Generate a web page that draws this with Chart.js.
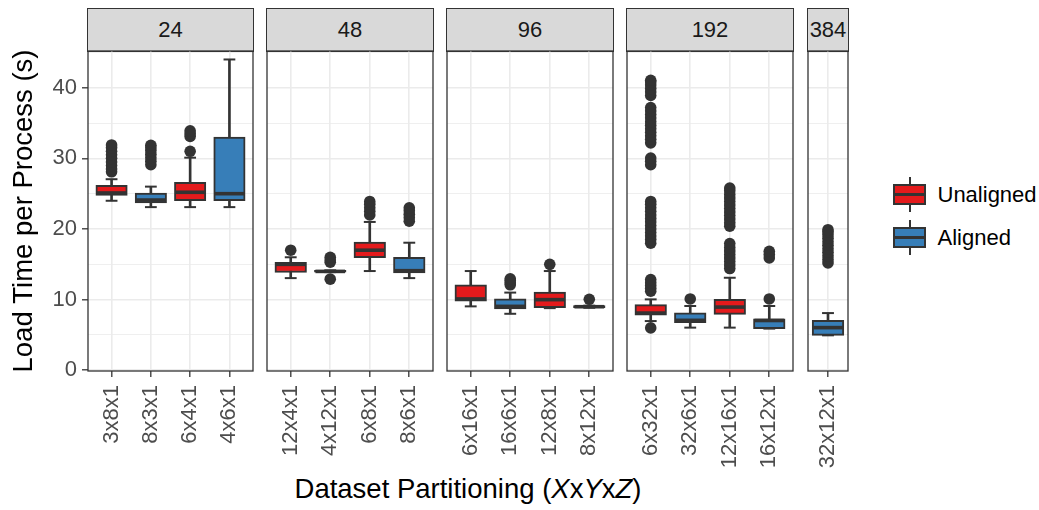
<!DOCTYPE html>
<html>
<head>
<meta charset="utf-8">
<script src="https://cdn.jsdelivr.net/npm/chart.js@4.4.1/dist/chart.umd.min.js"></script>
<style>
html,body{margin:0;padding:0;background:#fff;}
body{width:1039px;height:510px;position:relative;overflow:hidden;font-family:"Liberation Sans",Arial,Helvetica,sans-serif;}
.strip{position:absolute;box-sizing:border-box;background:#d9d9d9;border:1.3px solid #333;color:#1a1a1a;font-size:22px;display:flex;align-items:center;justify-content:center;overflow:hidden;white-space:nowrap;}
#xtitle{position:absolute;left:88px;width:760px;top:475px;text-align:center;font-size:27.5px;line-height:27.5px;color:#000;white-space:nowrap;}
#legend{position:absolute;left:887.5px;top:173px;}
.item{position:relative;height:43px;display:flex;align-items:center;}
.key{position:relative;width:44px;height:43px;flex:none;}
.wh{position:absolute;left:21px;width:2px;top:4.3px;height:34.4px;background:#333;}
.bx{position:absolute;left:5.5px;width:33px;top:10.75px;height:21.5px;box-sizing:border-box;border:2px solid #333;}
.md{position:absolute;left:5.5px;width:33px;top:19.75px;height:3.5px;background:#333;}
.item span{margin-left:6px;font-size:22px;color:#000;white-space:nowrap;}
</style>
</head>
<body>
<div id="xtitle">Dataset Partitioning (<i>X</i>x<i>Y</i>x<i>Z</i>)</div>
<div id="legend"></div>
<script>
// ---------------- data ----------------
const panelLabels = ['24', '48', '96', '192', '384'];
const categories = ['3x8x1','8x3x1','6x4x1','4x6x1',
                    '12x4x1','4x12x1','6x8x1','8x6x1',
                    '6x16x1','16x6x1','12x8x1','8x12x1',
                    '6x32x1','32x6x1','12x16x1','16x12x1',
                    '32x12x1'];
const panelOf = [0,0,0,0, 1,1,1,1, 2,2,2,2, 3,3,3,3, 4];
const alignment = ['Unaligned','Aligned','Unaligned','Aligned',
                   'Unaligned','Aligned','Unaligned','Aligned',
                   'Unaligned','Aligned','Unaligned','Aligned',
                   'Unaligned','Aligned','Unaligned','Aligned',
                   'Aligned'];
const whiskerLow  = [24.0, 23.1, 23.1, 23.1, 13.05, 13.9, 14.05, 13.05, 9.05, 8.0, 8.8, 8.85, 6.97, 6.04, 6.04, 5.9, 4.95];
const q1          = [24.75, 23.7, 24.0, 24.0, 13.85, 13.9, 15.94, 13.8, 9.8, 8.7, 8.87, 8.85, 7.8, 6.75, 7.92, 5.9, 4.95];
const median      = [25.1, 24.1, 25.2, 25.0, 15.0, 14.0, 17.0, 14.1, 10.1, 9.05, 10.0, 9.0, 8.1, 7.07, 8.95, 7.05, 6.04];
const q3          = [26.2, 25.1, 26.6, 33.0, 15.3, 14.15, 18.15, 16.0, 12.1, 10.1, 11.07, 9.15, 9.3, 8.15, 10.04, 7.3, 7.07];
const whiskerHigh = [27.05, 26.0, 30.1, 44.0, 16.0, 14.15, 21.0, 18.06, 14.05, 11.0, 14.05, 9.15, 10.04, 9.1, 13.1, 9.1, 8.1];
const outliers = [
  [28.1,28.5,29,29.5,30,30.5,31,31.5,31.9],
  [29.1,29.6,30.1,30.6,31.1,31.5,31.85],
  [31.0,33.1,33.5,33.9],
  [],
  [17.0],
  [12.9,15.3,15.6,16.0],
  [22.0,22.5,23.0,23.5,23.9],
  [21.1,21.6,22.1,22.6,23.0],
  [],
  [12.1,12.4,12.7,12.95],
  [15.0],
  [10.05],
  [6.0, 11.2,11.6,12.0,12.4,12.85,
   18.0,18.5,19.0,19.5,20.0,20.5,21.0,21.5,22.0,22.5,23.0,23.5,23.9,
   29.1,29.6,30.05,
   32.2,32.7,33.2,33.7,34.2,34.7,35.2,35.7,36.2,36.7,37.2,38.9,39.4,39.9,40.4,40.8,41.05],
  [10.1],
  [14.4,14.9,15.4,15.9,16.4,16.9,17.4,17.95, 20.4,20.9,21.4,21.9,22.4,22.9,23.4,23.9,24.4,24.9,25.4,25.8],
  [10.1,15.9,16.4,16.85],
  [15.2,15.7,16.2,16.7,17.2,17.7,18.2,18.7,19.2,19.6,19.9]
];
const legendLabels = ['Unaligned', 'Aligned'];
const yMajorTicks = [0, 10, 20, 30, 40];
const yMinorTicks = [5, 15, 25, 35, 45];
const yRange = [-0.1, 45.2];

// ---------------- styles / layout ----------------
const seriesColor = {Unaligned: '#E41A1C', Aligned: '#377EB8'};
const dark = '#333333';
const panelLeft  = [88, 267, 447, 627, 808];
const panelRight = [253, 433, 613, 793, 848];
const panelTop = 51, panelBottom = 371, pageH = 510;
const xExpand = [0.6, 0.6, 0.6, 0.6, 0.505];
const FONT = '"Liberation Sans", Arial, Helvetica, sans-serif';
Chart.defaults.font.family = FONT;

const framePlugin = {
  id: 'frame',
  afterDraw(chart) {
    const {ctx, chartArea: a} = chart;
    ctx.save();
    ctx.strokeStyle = dark;
    ctx.lineWidth = 1.3;
    ctx.strokeRect(a.left, a.top, a.right - a.left, a.bottom - a.top);
    ctx.restore();
  }
};

// strips
panelLabels.forEach((lab, p) => {
  const d = document.createElement('div');
  d.className = 'strip';
  d.style.left = (panelLeft[p] - 0.65) + 'px';
  d.style.width = (panelRight[p] - panelLeft[p] + 1.3) + 'px';
  d.style.top = '7.5px';
  d.style.height = (panelTop - 7.5 + 0.65) + 'px';
  d.textContent = lab;
  document.body.appendChild(d);
});

// legend
const leg = document.getElementById('legend');
legendLabels.forEach(l => {
  const it = document.createElement('div');
  it.className = 'item';
  it.innerHTML = '<div class="key"><div class="wh"></div><div class="bx" style="background:' + seriesColor[l] + '"></div><div class="md"></div></div><span>' + l + '</span>';
  leg.appendChild(it);
});

// panels
for (let p = 0; p < panelLabels.length; p++) {
  const idx = categories.map((c, i) => i).filter(i => panelOf[i] === p);
  const n = idx.length;
  const xMin = 1 - xExpand[p], xMax = n + xExpand[p];
  const ppu = (panelRight[p] - panelLeft[p]) / (xMax - xMin);
  const boxW = 0.8 * ppu;
  const isFirst = p === 0;
  const padL = isFirst ? 0 : 3, padR = 3;
  const cLeft = isFirst ? 0 : panelLeft[p] - padL;
  const cW = panelRight[p] + padR - cLeft;

  const canvas = document.createElement('canvas');
  canvas.width = cW; canvas.height = pageH;
  canvas.style.cssText = 'position:absolute;left:' + cLeft + 'px;top:0;width:' + cW + 'px;height:' + pageH + 'px;';
  document.body.appendChild(canvas);

  const fills = idx.map(k => seriesColor[alignment[k]]);
  const whiskerData = idx.map((k, j) => ({x: j + 1, y: [whiskerLow[k], whiskerHigh[k]]}));
  const boxData = idx.map((k, j) => ({x: j + 1, y: [q1[k], q3[k]]}));
  const medianData = idx.map((k, j) => ({x: j + 1, y: median[k]}));
  const capData = [];
  idx.forEach((k, j) => { capData.push({x: j + 1, y: whiskerLow[k]}); capData.push({x: j + 1, y: whiskerHigh[k]}); });
  const outData = [];
  idx.forEach((k, j) => outliers[k].forEach(v => outData.push({x: j + 1, y: v})));

  new Chart(canvas, {
    type: 'scatter',
    data: {
      datasets: [
        {type: 'bar', label: 'whisker', data: whiskerData, backgroundColor: dark, borderWidth: 0,
         barThickness: 2, grouped: false, order: 5},
        {type: 'bar', label: 'box', data: boxData, backgroundColor: fills, borderColor: dark, borderWidth: 2,
         borderSkipped: false, barThickness: boxW, grouped: false, order: 4},
        {type: 'scatter', label: 'median', data: medianData, pointStyle: 'line', pointRadius: boxW / 2 - 1,
         pointHoverRadius: boxW / 2 - 1, pointBorderWidth: 3.6, pointBorderColor: dark, pointHoverBorderWidth: 3.6, order: 3},
        {type: 'scatter', label: 'cap', data: capData, pointStyle: 'line', pointRadius: 0.15 * ppu,
         pointHoverRadius: 0.15 * ppu, pointBorderWidth: 2, pointBorderColor: dark, pointHoverBorderWidth: 2, order: 2},
        {type: 'scatter', label: 'outlier', data: outData, pointStyle: 'circle', pointRadius: 5.8, pointHoverRadius: 5.8,
         pointBackgroundColor: dark, pointBorderWidth: 0, pointHoverBorderWidth: 0, order: 1}
      ]
    },
    options: {
      responsive: false,
      animation: false,
      events: [],
      layout: {autoPadding: false, padding: {left: padL, right: padR, top: panelTop, bottom: 0}},
      plugins: {legend: {display: false}, tooltip: {enabled: false}},
      scales: {
        x: {
          type: 'linear', min: xMin, max: xMax, offset: false,
          afterBuildTicks: s => { s.ticks = idx.map((k, j) => ({value: j + 1})); },
          afterFit: s => { s.height = pageH - panelBottom; s.paddingLeft = 0; s.paddingRight = 0; },
          grid: {color: '#ebebeb', lineWidth: 1.6, tickColor: dark, tickLength: 6, tickWidth: 1.3, offset: false},
          border: {display: false},
          ticks: {
            autoSkip: false, minRotation: 90, maxRotation: 90, padding: 8,
            color: '#4d4d4d', font: {size: 22},
            callback: (v, i) => categories[idx[i]]
          }
        },
        y: {
          type: 'linear', min: yRange[0], max: yRange[1],
          afterBuildTicks: s => { s.ticks = yMajorTicks.concat(yMinorTicks).sort((a, b) => a - b).map(v => ({value: v})); },
          afterFit: s => { s.width = isFirst ? panelLeft[0] : 0; s.paddingTop = 0; s.paddingBottom = 0; },
          grid: {
            color: '#ebebeb',
            lineWidth: c => (c.tick && yMajorTicks.includes(c.tick.value)) ? 1.6 : 0.8,
            tickColor: c => (c.tick && yMajorTicks.includes(c.tick.value)) ? dark : 'rgba(0,0,0,0)',
            tickLength: 6, tickWidth: 1.3, drawTicks: isFirst
          },
          border: {display: false},
          ticks: {
            display: isFirst, padding: 5, color: '#4d4d4d', font: {size: 22},
            callback: v => yMajorTicks.includes(v) ? String(v) : ''
          },
          title: {
            display: isFirst, text: 'Load Time per Process (s)', color: '#000',
            font: {size: 27.5}, padding: {top: 8, bottom: 0}
          }
        }
      }
    },
    plugins: [framePlugin]
  });
}
</script>
</body>
</html>
